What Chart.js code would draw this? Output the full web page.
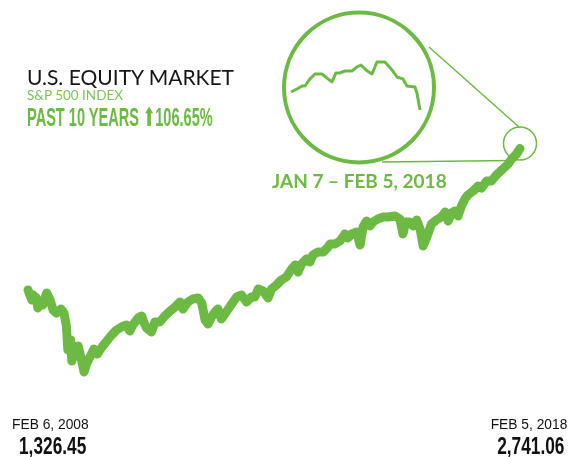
<!DOCTYPE html>
<html>
<head>
    <title></title>
    <script src="https://cdn.jsdelivr.net/npm/chart.js"></script>
    <style>
        body { margin: 0; background: #fff; }
        .wrap { position: relative; width: 582px; height: 457px; overflow: hidden; }
        .wrap canvas { position: absolute; }
        .lbl { position: absolute; white-space: nowrap; line-height: 1; }
        .title { left: 27px; top: 64px; font: 400 21px Lato, sans-serif; color: #161616; }
        .sub { left: 27px; top: 87px; font: 400 13.5px Lato, sans-serif; color: #7dc35a; }
        .past { left: 27px; top: 102px; font: 700 26px "Liberation Sans Narrow", sans-serif; color: #6cb944; transform: scaleX(0.56); transform-origin: left top; }
        .range { left: 272px; top: 169px; font: 700 19px Lato, sans-serif; color: #6cb944; }
        .date { font: 400 15px "Liberation Sans Narrow", sans-serif; color: #111; transform: scaleX(0.92); }
        .val { font: 700 24px "Liberation Sans Narrow", sans-serif; color: #111; transform: scaleX(0.72); }
    </style>
</head>
<body>
    <div class="wrap">
        <canvas id="mainChart" width="582" height="457" style="left:0;top:0"></canvas>
        <canvas id="zoomChart" width="154" height="154" style="left:282px;top:11px"></canvas>
        <div class="lbl title">U.S. EQUITY MARKET</div>
        <div class="lbl sub">S&amp;P 500 INDEX</div>
        <div class="lbl past">PAST 10 YEARS <span style="font-family:'DejaVu Sans'">⬆</span>106.65%</div>
        <div class="lbl range">JAN 7 – FEB 5, 2018</div>
        <div class="lbl date" style="left:12px;top:415px;transform-origin:left top">FEB 6, 2008</div>
        <div class="lbl val" style="left:19px;top:432px;transform-origin:left top">1,326.45</div>
        <div class="lbl date" style="right:15px;top:415px;transform-origin:right top">FEB 5, 2018</div>
        <div class="lbl val" style="right:18px;top:432px;transform-origin:right top">2,741.06</div>
    </div>

    <script>
        // S&P 500, Feb 2008 - Feb 2018 (decimal years / index level)
        const years = [
            2008.10, 2008.14, 2008.18, 2008.20, 2008.27, 2008.30, 2008.36, 2008.40, 2008.48, 2008.55,
            2008.61, 2008.68, 2008.77, 2008.83, 2008.88, 2008.91, 2008.97, 2008.99, 2009.06, 2009.12,
            2009.18, 2009.24, 2009.29, 2009.38, 2009.44, 2009.51, 2009.59, 2009.70, 2009.80, 2009.90,
            2010.00, 2010.10, 2010.17, 2010.23, 2010.34, 2010.41, 2010.46, 2010.51, 2010.61, 2010.68,
            2010.78, 2010.88, 2010.99, 2011.09, 2011.19, 2011.25, 2011.35, 2011.45, 2011.56, 2011.63,
            2011.70, 2011.76, 2011.83, 2011.90, 2011.96, 2012.03, 2012.13, 2012.24, 2012.34, 2012.44,
            2012.54, 2012.64, 2012.71, 2012.78, 2012.88, 2012.98, 2013.05, 2013.15, 2013.25, 2013.35,
            2013.46, 2013.53, 2013.59, 2013.66, 2013.76, 2013.83, 2013.89, 2013.99, 2014.10, 2014.20,
            2014.24, 2014.34, 2014.44, 2014.54, 2014.60, 2014.68, 2014.78, 2014.85, 2014.91, 2014.98,
            2015.05, 2015.11, 2015.21, 2015.32, 2015.42, 2015.56, 2015.66, 2015.72, 2015.78, 2015.86,
            2015.93, 2016.00, 2016.07, 2016.13, 2016.20, 2016.30, 2016.40, 2016.50, 2016.58, 2016.64,
            2016.71, 2016.78, 2016.84, 2016.91, 2016.98, 2017.04, 2017.15, 2017.25, 2017.32, 2017.42,
            2017.52, 2017.62, 2017.75, 2017.86, 2017.93, 2018.03, 2018.10
        ];
        const levels = [
            1326.45, 1276, 1226, 1276, 1246, 1146, 1216, 1176, 1296, 1226,
            1126, 1096, 1136, 1096, 966, 726, 826, 616, 716, 766,
            646, 506, 586, 676, 736, 686, 746, 816, 876, 926,
            956, 976, 916, 976, 1046, 1066, 996, 946, 906, 1006,
            1006, 1066, 1116, 1156, 1206, 1136, 1206, 1236, 1246, 1196,
            1026, 986, 1056, 1106, 1136, 1036, 1106, 1186, 1256, 1276,
            1206, 1256, 1256, 1336, 1316, 1246, 1336, 1376, 1426, 1456,
            1536, 1576, 1506, 1586, 1636, 1606, 1676, 1706, 1706, 1756,
            1786, 1786, 1816, 1886, 1846, 1886, 1906, 1776, 1956, 2016,
            1966, 2006, 2036, 2056, 2056, 2066, 2036, 1886, 2006, 2006,
            1966, 2026, 1936, 1766, 1846, 1986, 2026, 2056, 2106, 2016,
            2096, 2116, 2066, 2166, 2236, 2276, 2316, 2366, 2346, 2416,
            2416, 2476, 2536, 2586, 2636, 2686, 2741.06
        ];

        // Jan 7 - Feb 5, 2018 close-up (day of January / index level)
        const zoomDays = [
            7.0, 8.35, 9.47, 10.15, 11.27, 12.39, 13.97, 15.09, 16.21, 17.11,
            18.01, 19.13, 20.71, 21.83, 22.73, 23.85, 25.2, 26.33, 28.12, 29.7,
            30.82, 32.17, 33.07, 34.87, 35.31, 36.0
        ];
        const zoomLevels = [
            2733, 2747, 2761, 2761, 2794, 2817, 2817, 2798, 2780, 2822,
            2822, 2831, 2831, 2850, 2859, 2836, 2817, 2873, 2873, 2836,
            2803, 2794, 2761, 2756, 2728, 2649
        ];

        const green = '#6cb944';

        // magnifier circles and connector lines
        const magnifier = {
            id: 'magnifier',
            afterDatasetsDraw(chart) {
                const c = chart.ctx;
                c.save();
                c.strokeStyle = green;
                c.lineWidth = 4;
                c.beginPath();
                c.arc(359, 87.5, 75, 0, Math.PI * 2);
                c.stroke();
                c.lineWidth = 1.5;
                c.beginPath();
                c.arc(520, 143.5, 16.5, 0, Math.PI * 2);
                c.stroke();
                c.beginPath();
                c.moveTo(429, 47);
                c.lineTo(519, 127);
                c.moveTo(382, 162);
                c.lineTo(511, 160.5);
                c.stroke();
                c.restore();
            }
        };

        new Chart(document.getElementById('mainChart'), {
            type: 'line',
            data: {
                datasets: [{
                    data: years.map((x, i) => ({ x: x, y: levels[i] })),
                    borderColor: green,
                    borderWidth: 9,
                    borderJoinStyle: 'round',
                    borderCapStyle: 'round',
                    pointRadius: 0,
                    tension: 0,
                    clip: false
                }]
            },
            options: {
                responsive: false,
                animation: false,
                events: [],
                layout: { padding: { left: 28, right: 62, top: 20, bottom: 57 } },
                plugins: { legend: { display: false }, tooltip: { enabled: false } },
                scales: {
                    x: { type: 'linear', min: 2008.10, max: 2018.10, display: false },
                    y: { type: 'linear', min: 226, max: 4026, display: false }
                }
            },
            plugins: [magnifier]
        });

        new Chart(document.getElementById('zoomChart'), {
            type: 'line',
            data: {
                datasets: [{
                    data: zoomDays.map((x, i) => ({ x: x, y: zoomLevels[i] })),
                    borderColor: green,
                    borderWidth: 3,
                    borderJoinStyle: 'round',
                    pointRadius: 0,
                    tension: 0,
                    clip: false
                }]
            },
            options: {
                responsive: false,
                animation: false,
                events: [],
                layout: { padding: { left: 9, right: 16, top: 51, bottom: 55 } },
                plugins: { legend: { display: false }, tooltip: { enabled: false } },
                scales: {
                    x: { type: 'linear', min: 7, max: 36, display: false },
                    y: { type: 'linear', min: 2649, max: 2873, display: false }
                }
            }
        });
    </script>
</body>
</html>
